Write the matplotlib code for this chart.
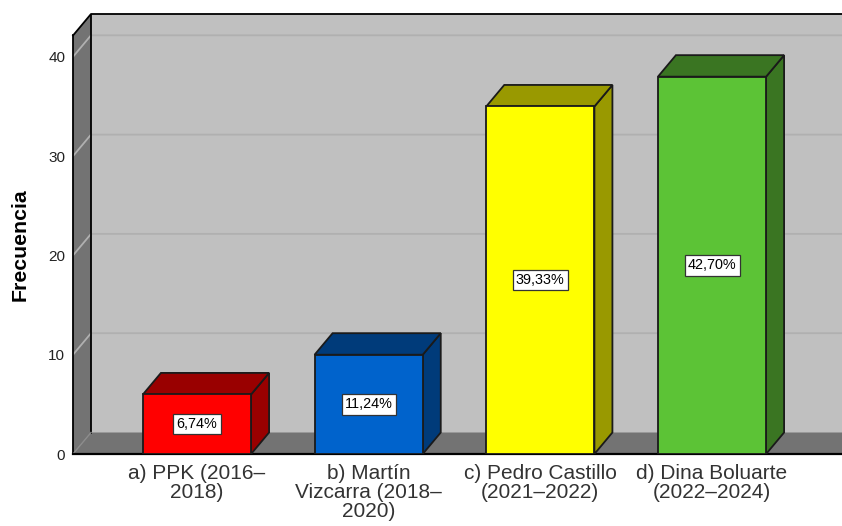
import matplotlib
matplotlib.use('Agg')
import matplotlib.pyplot as plt
from matplotlib.ticker import FixedLocator

plt.rcParams['font.family'] = ['Liberation Sans', 'DejaVu Sans']

categories = ['a) PPK (2016\u2013\n2018)', 'b) Mart\u00edn\nVizcarra (2018\u2013\n2020)',
              'c) Pedro Castillo\n(2021\u20132022)', 'd) Dina Boluarte\n(2022\u20132024)']
counts = [6, 10, 35, 38]
percent_labels = ['6,74%', '11,24%', '39,33%', '42,70%']
y_ticks = [0, 10, 20, 30, 40]

front_colors = ['#ff0000', '#0063cc', '#ffff00', '#5cc336']
dark_colors = ['#990000', '#003b7a', '#999900', '#3a7522']

W, H = 842, 526
bar_w = 0.63
dx = 18 / 171.67
dy = 21.5 / 9.93
edge = '#1a1a1a'

fig = plt.figure(figsize=(W / 100, H / 100), dpi=100)
ax = fig.add_axes([73 / W, 1 - 454 / H, (W - 73) / W, 440 / H])
x0, x1 = -124 / 171.67, (W - 197) / 171.67
ymax = 440 / 9.93
ax.set_xlim(x0, x1)
ax.set_ylim(0, ymax)
ax.set_facecolor('white')
for s in ax.spines.values():
    s.set_visible(False)

# back wall, side wall and floor
ax.fill([x0 + dx, x1, x1, x0 + dx], [dy, dy, ymax, ymax], fc='#c0c0c0', ec='none', zorder=1)
ax.fill([x0, x0 + dx, x0 + dx, x0], [0, dy, ymax, ymax - dy], fc='#737373', ec='none', zorder=1)
ax.fill([x0, x0 + dx, x1, x1], [0, dy, dy, 0], fc='#737373', ec='none', zorder=1)

# gridlines wrap from side wall to back wall
for t in y_ticks[1:]:
    ax.plot([x0, x0 + dx, x1], [t, t + dy, t + dy], color='#b0b0b0', lw=1.3, zorder=2,
            solid_joinstyle='miter')

ax.plot([x0, x0 + dx, x1], [ymax - dy, ymax, ymax], color='black', lw=1.3, zorder=3, clip_on=False)
ax.plot([x0, x0], [0, ymax - dy], color='black', lw=1.3, zorder=3, clip_on=False)
ax.plot([x0 + dx, x0 + dx], [dy, ymax], color='black', lw=1.3, zorder=3)
ax.plot([x0, x0 + dx], [0, dy], color='#8c8c8c', lw=1, zorder=3)
ax.plot([x0, x1], [0, 0], color='black', lw=1.6, zorder=3, clip_on=False)

for i, v in enumerate(counts):
    l, r = i - bar_w / 2, i + bar_w / 2
    ax.fill([r, r + dx, r + dx, r], [0, dy, v + dy, v], fc=dark_colors[i], ec=edge, lw=1.3, zorder=4)
    ax.fill([l, l + dx, r + dx, r], [v, v + dy, v + dy, v], fc=dark_colors[i], ec=edge, lw=1.3, zorder=4)
    ax.fill([l, r, r, l], [0, 0, v, v], fc=front_colors[i], ec=edge, lw=1.3, zorder=5)
    ax.text(i, v / 2, percent_labels[i], ha='center', va='center', fontsize=10.4, color='black', zorder=6,
            bbox=dict(boxstyle='square,pad=0.22', fc='white', ec='#333333', lw=0.9))

ax.xaxis.set_major_locator(FixedLocator(range(len(categories))))
ax.set_xticklabels(categories, fontsize=15, color='#333333', linespacing=1.0)
ax.yaxis.set_major_locator(FixedLocator(y_ticks))
ax.tick_params(axis='x', length=0, pad=7.5)
ax.tick_params(axis='y', length=0, pad=5.5, labelsize=11, labelcolor='#222222')

fig.text(20.5 / W, 1 - 245 / H, 'Frecuencia', rotation=90, ha='center', va='center',
         fontsize=15.3, fontweight='bold', color='black')

fig.savefig('out.png', dpi=100)
